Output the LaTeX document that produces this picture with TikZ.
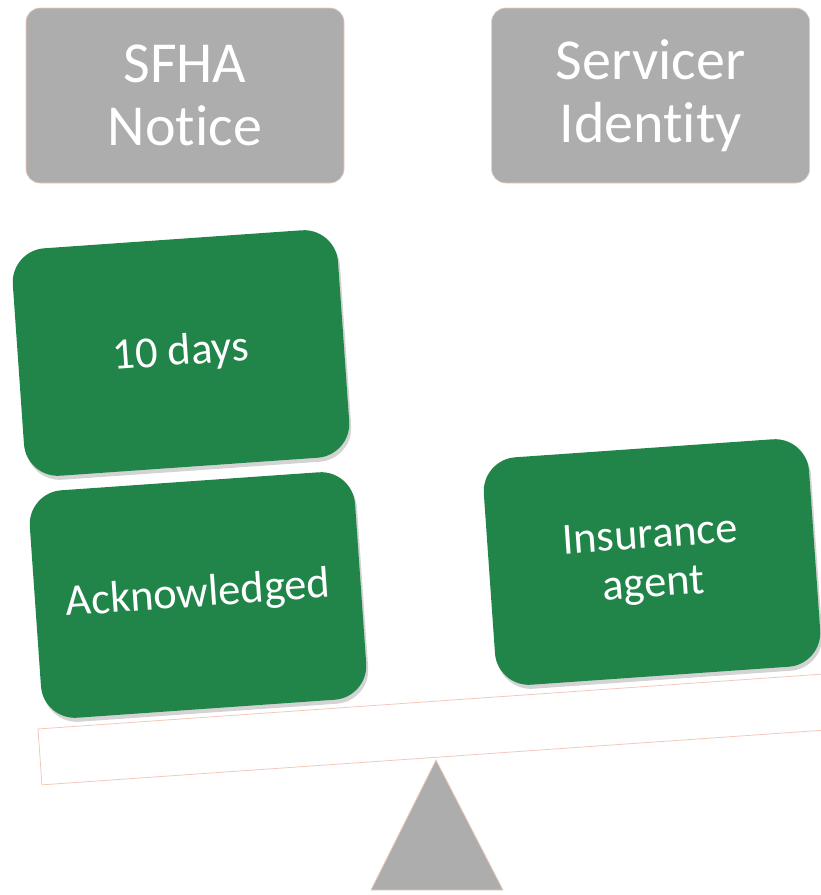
\documentclass[tikz,border=0pt]{standalone}
\usepackage{fontspec}
\setmainfont{Carlito}[Ligatures=NoCommon]
\usetikzlibrary{positioning,shadows}
\definecolor{panelgray}{RGB}{173,173,173}
\definecolor{leafgreen}{RGB}{33,133,74}
\definecolor{rimpink}{RGB}{242,200,186}

\begin{document}
\begin{tikzpicture}[
  x=1pt, y=1pt,
  header/.style={draw=rimpink, line width=0.6pt, fill=panelgray, rounded corners=14pt, minimum width=318pt, minimum height=175pt, align=center, text=white, font=\fontsize{58}{63}\selectfont},
  weight/.style={fill=leafgreen, rounded corners=34pt, minimum width=326pt, minimum height=228pt, align=center, text=white, rotate=4, font=\fontsize{44.5}{49}\selectfont, drop shadow={shadow xshift=2pt, shadow yshift=-4pt, opacity=0.35}},
  rim/.style={draw=rimpink, line width=0.8pt},
]
\useasboundingbox (0,0) rectangle (821,-895);
\clip (0,0) rectangle (821,-895);

% Beam and fulcrum
\node[rim, minimum width=800pt, minimum height=56pt, rotate=4] (beam) at (439,-729) {};
\draw[rim, fill=panelgray] (436,-760) coordinate (apex) -- (503,-890) -- (371,-890) -- cycle;

% Headers
\node[header] (sfha) at (185,-95.5) {SFHA\\Notice};
\node[header, right=147pt of sfha] (servicer) {Servicer\\Identity};

% Weights
\node[weight] (days) at (181,-353) {10 days};
\node[weight] (ack) at (198,-595) {Acknowledged};
\node[weight] (agent) at (652,-562) {Insurance\\agent};
\end{tikzpicture}
\end{document}
